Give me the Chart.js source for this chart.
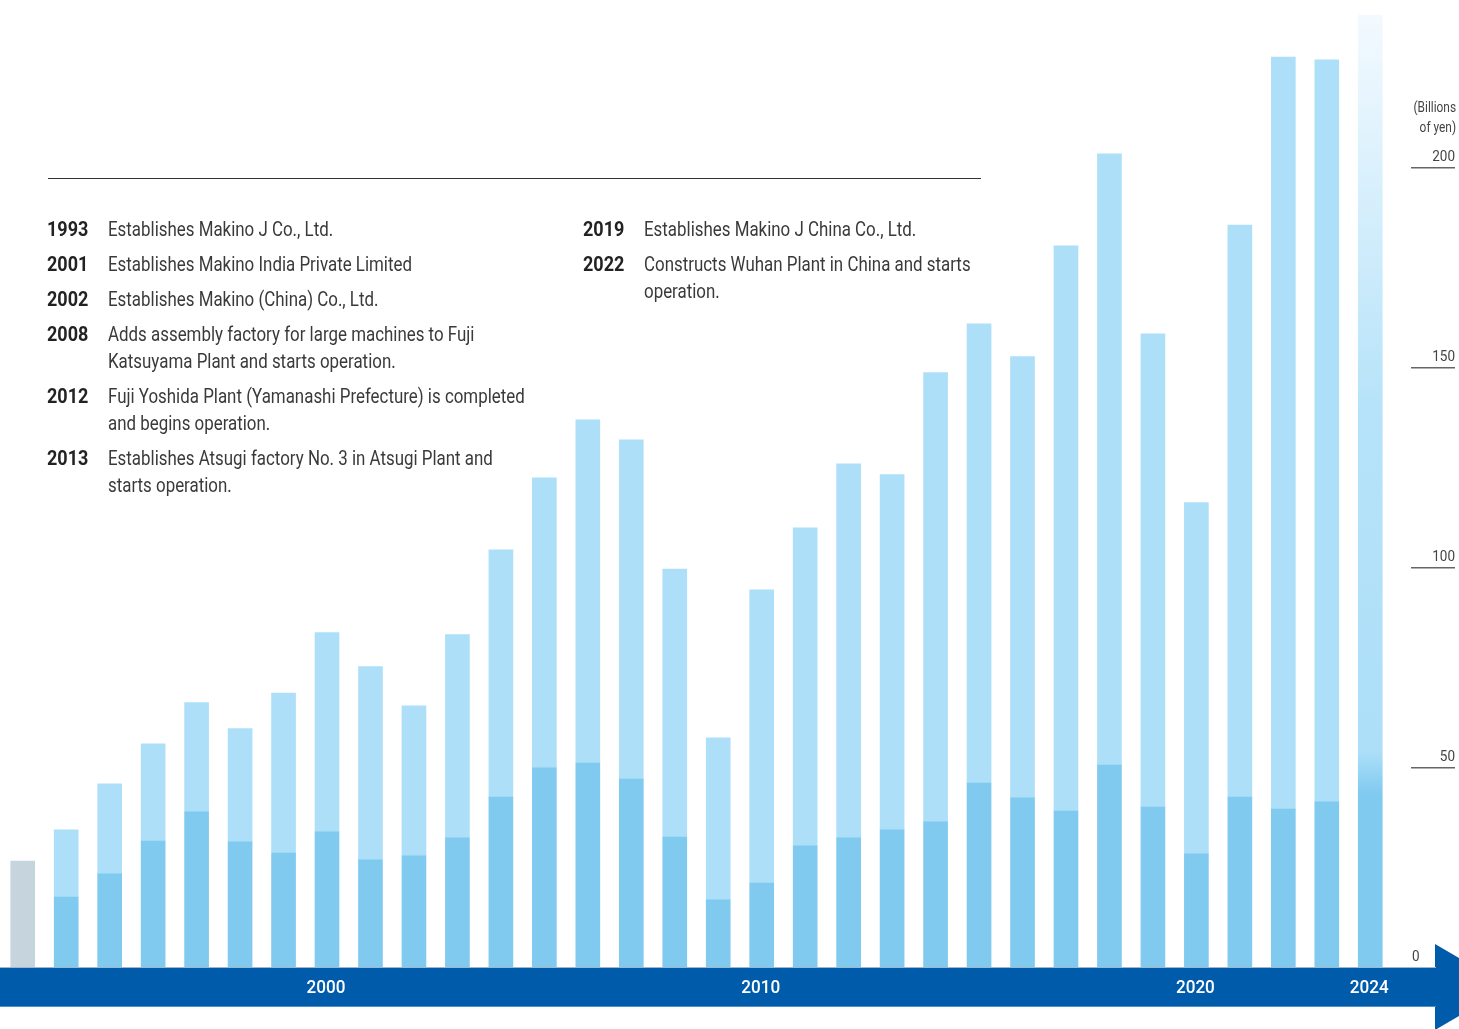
<!DOCTYPE html>
<html>
<head>
<meta charset="utf-8">
<script src="https://cdn.jsdelivr.net/npm/chart.js@4/dist/chart.umd.min.js"></script>
<style>
  html, body { margin: 0; padding: 0; background: #fff; overflow: hidden; }
  #wrap { position: relative; width: 1459px; height: 1029px; }
  #wrap canvas { position: absolute; left: 0; top: 0; }
  .rule { position: absolute; left: 48px; top: 178px; width: 933px; height: 0; border-top: 1.5px solid #333; }
  .events { position: absolute; font-family: "Roboto", sans-serif; font-size: 20px; line-height: 27px; color: #3a3a3a; font-weight: 400; }
  .ev { position: relative; margin-bottom: 8px; white-space: nowrap; }
  .ev b { position: absolute; left: 0; top: 0; color: #222; font-weight: bold; transform: scaleX(0.9); transform-origin: left; }
  .ev span { display: block; margin-left: 61px; transform: scaleX(0.845); transform-origin: left; }
  .unit { position: absolute; right: 3px; top: 97px; text-align: right; font-family: "Roboto", sans-serif; font-size: 14px; line-height: 20px; color: #444; transform: scaleX(0.85); transform-origin: right; }
</style>
</head>
<body>
<div id="wrap">
  <canvas id="chart"></canvas>
  <div class="rule"></div>
  <div class="events" style="left:47px; top:216px;">
    <div class="ev"><b>1993</b><span>Establishes Makino J Co., Ltd.</span></div>
    <div class="ev"><b>2001</b><span>Establishes Makino India Private Limited</span></div>
    <div class="ev"><b>2002</b><span>Establishes Makino (China) Co., Ltd.</span></div>
    <div class="ev"><b>2008</b><span>Adds assembly factory for large machines to Fuji<br>Katsuyama Plant and starts operation.</span></div>
    <div class="ev"><b>2012</b><span>Fuji Yoshida Plant (Yamanashi Prefecture) is completed<br>and begins operation.</span></div>
    <div class="ev"><b>2013</b><span>Establishes Atsugi factory No. 3 in Atsugi Plant and<br>starts operation.</span></div>
  </div>
  <div class="events" style="left:583px; top:216px;">
    <div class="ev"><b>2019</b><span>Establishes Makino J China Co., Ltd.</span></div>
    <div class="ev"><b>2022</b><span>Constructs Wuhan Plant in China and starts<br>operation.</span></div>
  </div>
  <div class="unit">(Billions<br>of yen)</div>
</div>

<script>
// ---- data ----
const years = ["1993","1994","1995","1996","1997","1998","1999","2000","2001","2002",
  "2003","2004","2005","2006","2007","2008","2009","2010","2011","2012",
  "2013","2014","2015","2016","2017","2018","2019","2020","2021","2022","2023","2024"];

// darker lower segment (1993 bar is the grey one)
const lowerPart = [26.5, 17.5, 23.3, 31.5, 38.8, 31.3, 28.5, 33.8, 26.8, 27.8,
  32.3, 42.5, 49.8, 51.0, 47.0, 32.5, 16.8, 21.0, 30.3, 32.3,
  34.3, 36.3, 46.0, 42.3, 39.0, 50.5, 40.0, 28.3, 42.5, 39.5, 41.3, null];

// lighter upper segment
const upperPart = [null, 16.8, 22.5, 24.3, 27.3, 28.3, 40.0, 49.8, 48.3, 37.5,
  50.8, 61.8, 72.5, 85.8, 84.8, 67.0, 40.5, 73.3, 79.5, 93.5,
  88.8, 112.3, 114.8, 110.3, 141.3, 152.8, 118.3, 87.8, 143.0, 188.0, 185.5, null];

// 2024: one faded bar running to the top
const fadedBar = [null, null, null, null, null, null, null, null, null, null,
  null, null, null, null, null, null, null, null, null, null,
  null, null, null, null, null, null, null, null, null, null, null, 238];

const yTicks = [0, 50, 100, 150, 200];
const bandLabels = ["2000", "2010", "2020", "2024"];

const DARK = "#80c9ef";
const LIGHT = "#addff9";
const GREY = "#c6d5dd";
const FONT = '"Roboto", sans-serif';

// faded fill for the 2024 bar
function fadeFill(ctx) {
  const chart = ctx.chart;
  const y = chart.scales.y;
  if (!chart.chartArea || !y) return LIGHT;
  const g = chart.ctx.createLinearGradient(0, y.getPixelForValue(0), 0, y.getPixelForValue(240));
  g.addColorStop(0, DARK);
  g.addColorStop(43 / 240, DARK);
  g.addColorStop(54 / 240, LIGHT);
  g.addColorStop(140 / 240, "#b6e3f9");
  g.addColorStop(1, "#f4faff");
  return g;
}

// draw text squeezed sideways, like the condensed face of the original
function narrowText(c, txt, x, y, sx) {
  c.save();
  c.translate(x, y);
  c.scale(sx, 1);
  c.fillText(txt, 0, 0);
  c.restore();
}

// blue timeline band with arrow, and year labels in it
const bandPlugin = {
  id: "band",
  afterDatasetsDraw(chart) {
    const c = chart.ctx;
    const x = chart.scales.x;
    const top = chart.chartArea.bottom;
    c.save();
    c.fillStyle = "#005bab";
    c.fillRect(0, top, 1436, 40);
    c.beginPath();
    c.moveTo(1435, top - 23);
    c.lineTo(1509, top + 20);
    c.lineTo(1435, top + 63);
    c.closePath();
    c.fill();
    c.fillStyle = "#9fb6cb";
    c.fillRect(0, top, 1436, 1);
    c.fillStyle = "#4d8fcb";
    c.fillRect(0, top + 39, 1436, 1);
    c.fillStyle = "#fff";
    c.font = "500 19px " + FONT;
    c.textAlign = "center";
    c.textBaseline = "middle";
    bandLabels.forEach(l => {
      narrowText(c, l, x.getPixelForValue(years.indexOf(l)) - 1, top + 21, 0.9);
    });
    c.restore();
  }
};

// right-hand value ticks with short underlines
const tickPlugin = {
  id: "ticks",
  afterDraw(chart) {
    const c = chart.ctx;
    const y = chart.scales.y;
    c.save();
    c.font = "15px " + FONT;
    c.textBaseline = "alphabetic";
    yTicks.forEach(v => {
      const py = Math.round(y.getPixelForValue(v)) + 1;
      c.fillStyle = "#444";
      if (v === 0) {
        c.textAlign = "left";
        narrowText(c, "0", 1412, py - 7, 0.9);
        return;
      }
      c.textAlign = "right";
      narrowText(c, String(v), 1455, py - 7, 0.9);
      c.fillStyle = "#666";
      c.fillRect(1411, py - 1, 44, 1.5);
    });
    c.restore();
  }
};

new Chart(document.getElementById("chart"), {
  type: "bar",
  data: {
    labels: years,
    datasets: [
      {
        label: "lower",
        data: lowerPart,
        backgroundColor: years.map((y, i) => (i === 0 ? GREY : DARK)),
        stack: "s",
        barThickness: 24
      },
      {
        label: "upper",
        data: upperPart,
        backgroundColor: LIGHT,
        stack: "s",
        barThickness: 24
      },
      {
        label: "2024",
        data: fadedBar,
        backgroundColor: fadeFill,
        stack: "s",
        barThickness: 24
      }
    ]
  },
  options: {
    responsive: true,
    maintainAspectRatio: false,
    animation: false,
    layout: { padding: { left: 1, right: 67, top: 7, bottom: 62 } },
    plugins: { legend: { display: false }, tooltip: { enabled: false } },
    scales: {
      x: { stacked: true, display: false },
      y: { stacked: true, display: false, min: 0, max: 240 }
    }
  },
  plugins: [bandPlugin, tickPlugin]
});
</script>
</body>
</html>
